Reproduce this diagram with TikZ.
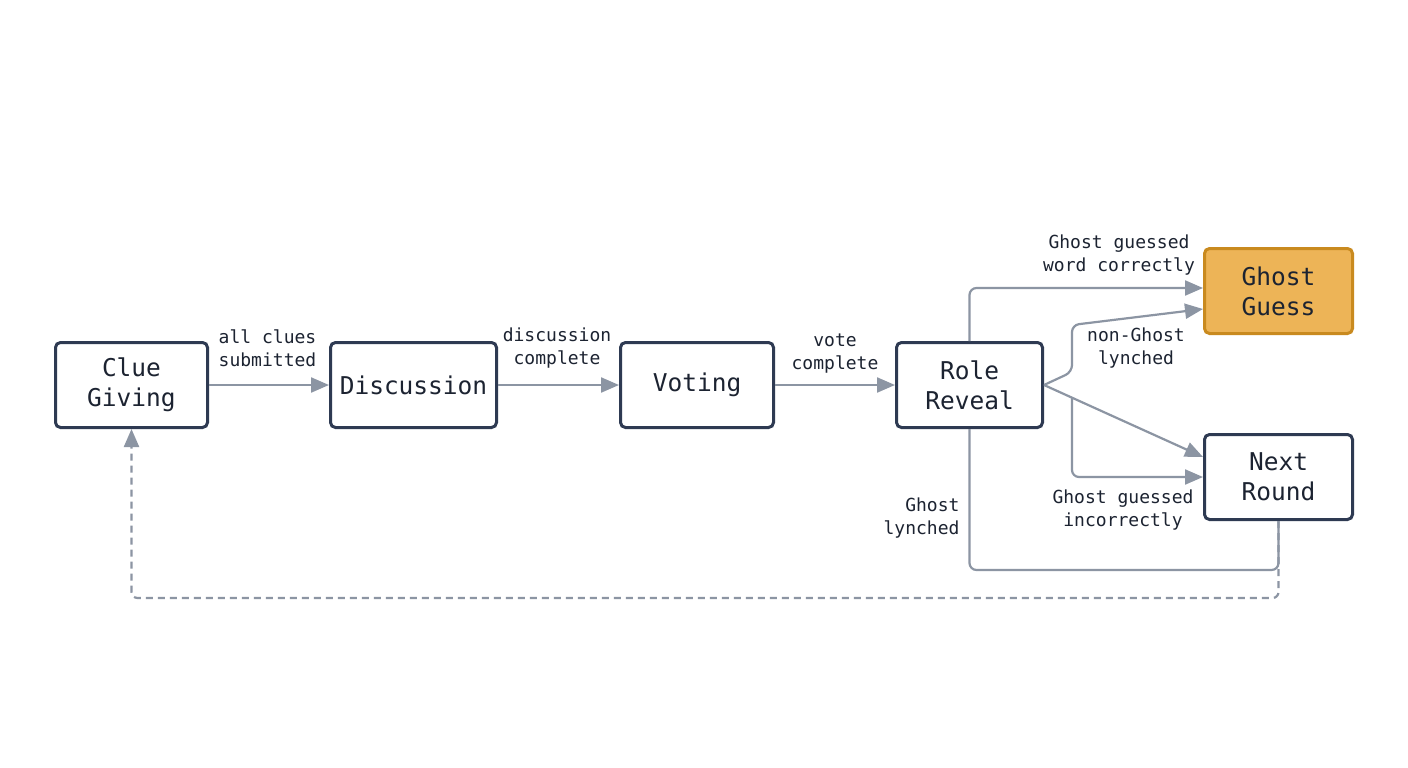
\documentclass[tikz,border=0pt]{standalone}
\usepackage{fontspec}
\setmonofont{DejaVu Sans Mono}
\usetikzlibrary{arrows.meta}
\definecolor{navy}{HTML}{2E3A52}
\definecolor{edgegray}{HTML}{8C95A3}
\definecolor{txt}{HTML}{1C2331}
\definecolor{gold}{HTML}{EDB457}
\definecolor{golddark}{HTML}{C98A1F}
\tikzset{
  box/.style={draw=navy, line width=3pt, rounded corners=5pt, fill=white, align=center, inner sep=0pt,
    minimum height=85pt, text=txt, font=\ttfamily\fontsize{24.5}{30}\selectfont},
  goldbox/.style={box, draw=golddark, fill=gold},
  tip/.style={-{Triangle[length=18pt,width=15pt]}},
  edge/.style={draw=edgegray, line width=2.2pt, rounded corners=7pt, tip},
  plain/.style={draw=edgegray, line width=2.2pt, rounded corners=7pt},
  lbl/.style={align=center, text=txt, inner sep=0pt, font=\ttfamily\fontsize{18}{23}\selectfont},
}
\begin{document}
\begin{tikzpicture}[x=1pt,y=-1pt]
\useasboundingbox[fill=white] (0,0) rectangle (1408,768);
\node[box, minimum width=152pt] (clue) at (131.5,385) {Clue\\Giving};
\node[box, minimum width=166pt] (disc) at (413.5,385) {Discussion};
\node[box, minimum width=153pt] (vote) at (697,385) {Voting};
\node[box, minimum width=146pt] (role) at (969.5,385) {Role\\Reveal};
\node[goldbox, minimum width=148pt] (gg) at (1278.5,291) {Ghost\\Guess};
\node[box, minimum width=148pt] (nr) at (1278.5,477) {Next\\Round};

\coordinate (nlbend) at (1072,372);
\coordinate (nltop) at (1072,325);
\coordinate (ngbranch) at (1072,397);
\coordinate (ly) at (0,570);
\coordinate (dash) at (0,598);

% dashed loop back
\draw[edgegray, line width=2.2pt, dash pattern=on 7pt off 5pt, rounded corners=6pt, tip]
  (nr.south) -- (nr.south |- dash) -- (clue.south |- dash) -- (clue.south);

\draw[edge] (clue.east) -- (disc.west);
\draw[edge] (disc.east) -- (vote.west);
\draw[edge] (vote.east) -- (role.west);
\draw[edge] (role.north) |- ([yshift=3pt]gg.west);
\draw[edge] (role.east) -- (nlbend) -- (nltop) -- ([yshift=-18pt]gg.west);
\draw[edge] (role.east) -- ([yshift=20pt]nr.west);
\draw[edge] (ngbranch) |- (nr.west);
\draw[plain] (role.south) -- (role.south |- ly) -- (nr.south |- ly) -- (nr.south);

\node[lbl] (l1) at (267.5,348) {all clues\\submitted};
\node[lbl] (l2) at (557,348) {discussion\\complete};
\node[lbl] (l3) at (835,354) {vote\\complete};
\node[lbl] (l4) at (1119,255) {Ghost guessed\\word correctly};
\node[lbl] (l5) at (1136,348) {non-Ghost\\lynched};
\node[lbl] (l6) at (1123,510) {Ghost guessed\\incorrectly};
\node[lbl, align=right] (l7) at (921.5,518) {Ghost\\lynched};
\end{tikzpicture}
\end{document}
